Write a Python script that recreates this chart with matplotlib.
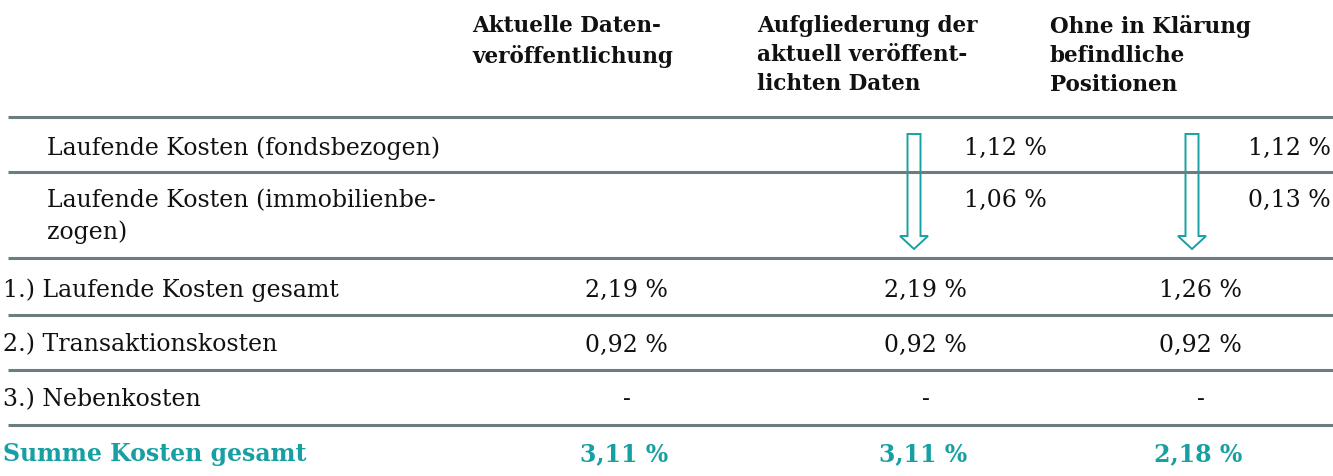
import matplotlib.pyplot as plt
from matplotlib.patches import FancyArrow

# column headers
col_headers = ["Aktuelle Daten-\nveröffentlichung",
               "Aufgliederung der\naktuell veröffent-\nlichten Daten",
               "Ohne in Klärung\nbefindliche\nPositionen"]

# sub rows (only broken down in columns 2 and 3)
sub_labels = ["Laufende Kosten (fondsbezogen)", "Laufende Kosten (immobilienbe-\nzogen)"]
sub_aufg = [1.12, 1.06]
sub_ohne = [1.12, 0.13]

# main rows
main_labels = ["1.) Laufende Kosten gesamt", "2.) Transaktionskosten", "3.) Nebenkosten"]
aktuell = [2.19, 0.92, None]
aufg = [2.19, 0.92, None]
ohne = [1.26, 0.92, None]

total_label = "Summe Kosten gesamt"
total = [3.11, 3.11, 2.18]

TEAL = "#17a0a3"
LINE = "#6b7d81"
INK = "#111111"
FONT = "DejaVu Serif"
FS = 17


def fmt(v):
    return "-" if v is None else f"{v:.2f}".replace(".", ",") + " %"


fig = plt.figure(figsize=(13.33, 4.76), dpi=100)
ax = fig.add_axes([0, 0, 1, 1])
ax.set_xlim(0, 1333)
ax.set_ylim(476, 0)
ax.axis("off")

# layout in pixel units
col_x = [472, 757, 1050]            # header left edges
val_right = [668, 967, 1242]        # right edge of main values
val_center = [627, 926, 1201]       # center of dashes
sub_right = [1047, 1331]
lines_y = [117, 172, 258, 315, 370, 425]
sub_label_y = [148, 217]
sub_val_y = [148, 200]
main_y = [290, 345, 400]
total_y = 454

for x, h in zip(col_x, col_headers):
    ax.text(x, 15, h, ha="left", va="top", fontsize=15.5, fontweight="bold",
            family=FONT, linespacing=1.42, color=INK)

for y in lines_y:
    ax.plot([8, 1333], [y, y], color=LINE, lw=2.2, solid_capstyle="butt")

for i, lab in enumerate(sub_labels):
    ax.text(47, sub_label_y[i], lab, ha="left", va="center", fontsize=FS, family=FONT,
            linespacing=1.45, color=INK)
    ax.text(sub_right[0], sub_val_y[i], fmt(sub_aufg[i]), ha="right", va="center",
            fontsize=FS, family=FONT, color=INK)
    ax.text(sub_right[1], sub_val_y[i], fmt(sub_ohne[i]), ha="right", va="center",
            fontsize=FS, family=FONT, color=INK)

for y, lab, *vals in zip(main_y, main_labels, aktuell, aufg, ohne):
    ax.text(3, y, lab, ha="left", va="center", fontsize=FS, family=FONT, color=INK)
    for j, v in enumerate(vals):
        if v is None:
            ax.text(val_center[j], y, "-", ha="center", va="center", fontsize=FS,
                    family=FONT, color=INK)
        else:
            ax.text(val_right[j], y, fmt(v), ha="right", va="center", fontsize=FS,
                    family=FONT, color=INK)

ax.text(3, total_y, total_label, ha="left", va="center", fontsize=FS, fontweight="bold",
        family=FONT, color=TEAL)
for j, v in enumerate(total):
    ax.text(val_right[j], total_y, fmt(v), ha="right", va="center", fontsize=FS,
            fontweight="bold", family=FONT, color=TEAL)

# outlined down arrows
for xc in [914, 1192]:
    ax.add_patch(FancyArrow(xc, 134, 0, 115, width=13, head_width=28, head_length=13,
                            length_includes_head=True, fill=False, edgecolor=TEAL, lw=1.4))

fig.savefig("out.png", dpi=100)
